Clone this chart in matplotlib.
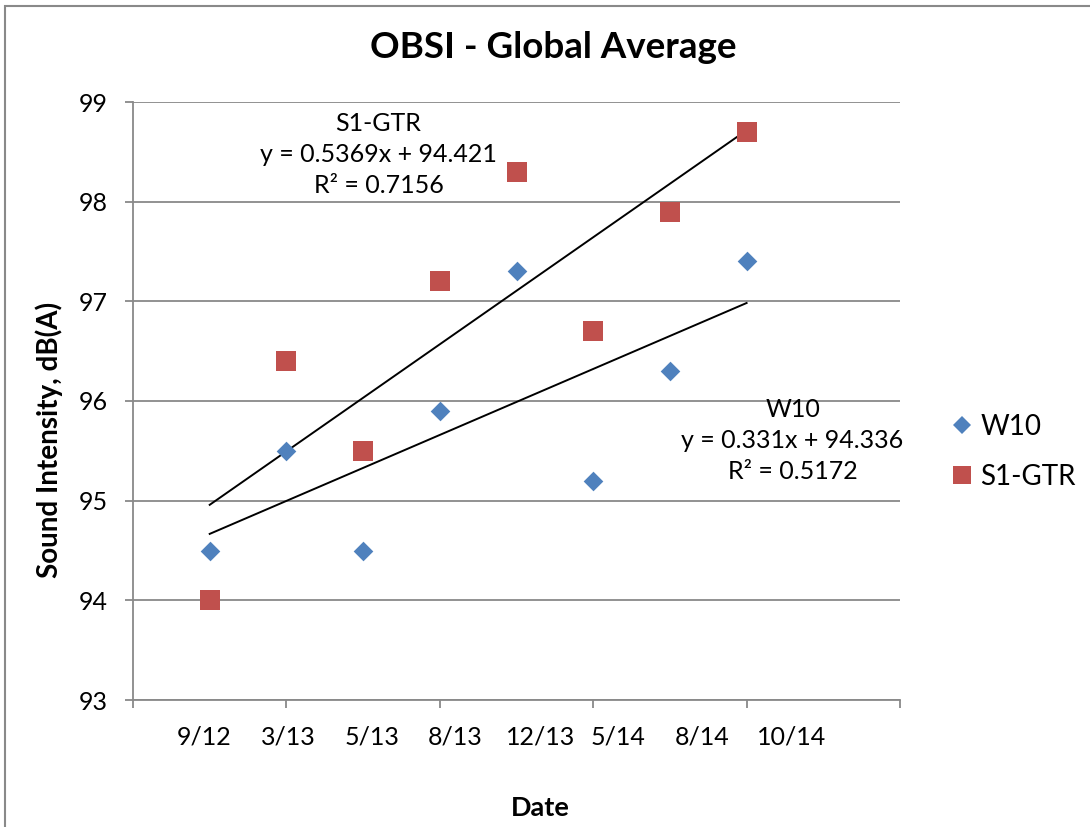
import matplotlib.pyplot as plt
import numpy as np
from matplotlib.lines import Line2D
from matplotlib.patches import Rectangle

# sample index and date labels
sample_idx = [1, 2, 3, 4, 5, 6, 7, 8]
date_labels = ["9/12", "3/13", "5/13", "8/13", "12/13", "5/14", "8/14", "10/14"]
# where excel left the date labels (data units along x)
date_label_x = [0.93, 2.02, 3.12, 4.20, 5.31, 6.32, 7.42, 8.59]

w10 = [94.5, 95.5, 94.5, 95.9, 97.3, 95.2, 96.3, 97.4]
s1_gtr = [94.0, 96.4, 95.5, 97.2, 98.3, 96.7, 97.9, 98.7]

y_ticks = [93, 94, 95, 96, 97, 98, 99]

BLUE = "#4F81BD"
RED = "#C0504D"
GRAY = "#898989"
FS = 18

plt.rcParams["font.family"] = ["Lato", "DejaVu Sans"]


def add_trend(ax, x, y, name, text_xy):
    """Least squares line over the points plus an excel style label."""
    slope, icpt = np.polyfit(x, y, 1)
    fit = slope * np.array(x) + icpt
    r2 = 1 - np.sum((np.array(y) - fit) ** 2) / np.sum((np.array(y) - np.mean(y)) ** 2)
    xs = np.array([min(x), max(x)])
    ax.plot(xs, slope * xs + icpt, color="black", lw=1.4, zorder=4)
    txt = f"{name}\ny = {slope:.4g}x + {icpt:.5g}\nR² = {r2:.4f}"
    ax.text(*text_xy, txt, ha="center", va="top", fontsize=FS,
            linespacing=1.42, transform=ax.transData)


fig = plt.figure(figsize=(10.9, 8.27), dpi=100)
ax = fig.add_axes([133 / 1090, 127 / 827, 767 / 1090, 598 / 827])

# chart area border (runs off the right and bottom edges)
fig.patches.append(Rectangle((5 / 1090, -0.1), 1.2, (821 / 827) + 0.1,
                             transform=fig.transFigure, fill=False,
                             edgecolor=GRAY, lw=1.5))

ax.scatter(sample_idx, w10, marker="D", s=100, color=BLUE, zorder=5, linewidths=0)
ax.scatter(sample_idx, s1_gtr, marker="s", s=200, color=RED, zorder=5, linewidths=0)

add_trend(ax, sample_idx, s1_gtr, "S1-GTR", (3.2, 98.9))
add_trend(ax, sample_idx, w10, "W10", (8.6, 96.03))

ax.set_xlim(0, 10)
ax.set_ylim(93, 99)
ax.set_yticks(y_ticks)
ax.set_xticks(np.arange(0, 11, 2))
ax.set_xticklabels([])
ax.grid(axis="y", color=GRAY, lw=1.3)
ax.set_axisbelow(True)
for side in ["top", "right"]:
    ax.spines[side].set_visible(False)
for side in ["left", "bottom"]:
    ax.spines[side].set_color(GRAY)
    ax.spines[side].set_linewidth(1.3)
ax.tick_params(axis="both", direction="out", length=6, width=1.3, color=GRAY,
               labelsize=FS, pad=12)

for lx, lab in zip(date_label_x, date_labels):
    ax.text(lx, 92.63, lab, ha="center", va="center", fontsize=FS)

fig.text(553 / 1090, 1 - 48 / 827, "OBSI - Global Average", ha="center",
         va="center", fontsize=26.5, fontweight="bold")
fig.text(49 / 1090, 1 - 440 / 827, "Sound Intensity, dB(A)", rotation=90,
         ha="center", va="center", fontsize=20, fontweight="bold")
fig.text(540 / 1090, 1 - 808 / 827, "Date", ha="center", va="center",
         fontsize=19.5, fontweight="bold")

handles = [
    Line2D([], [], ls="none", marker="D", ms=9.5, color=BLUE, mew=0),
    Line2D([], [], ls="none", marker="s", ms=13, color=RED, mew=0),
]
fig.legend(handles, ["W10", "S1-GTR"], loc="center left",
           bbox_to_anchor=(933 / 1090, 1 - 452 / 827), frameon=False,
           fontsize=20, handlelength=0.7, handletextpad=0.3, labelspacing=0.85,
           borderpad=0.2)

fig.savefig("out.png", dpi=100)
